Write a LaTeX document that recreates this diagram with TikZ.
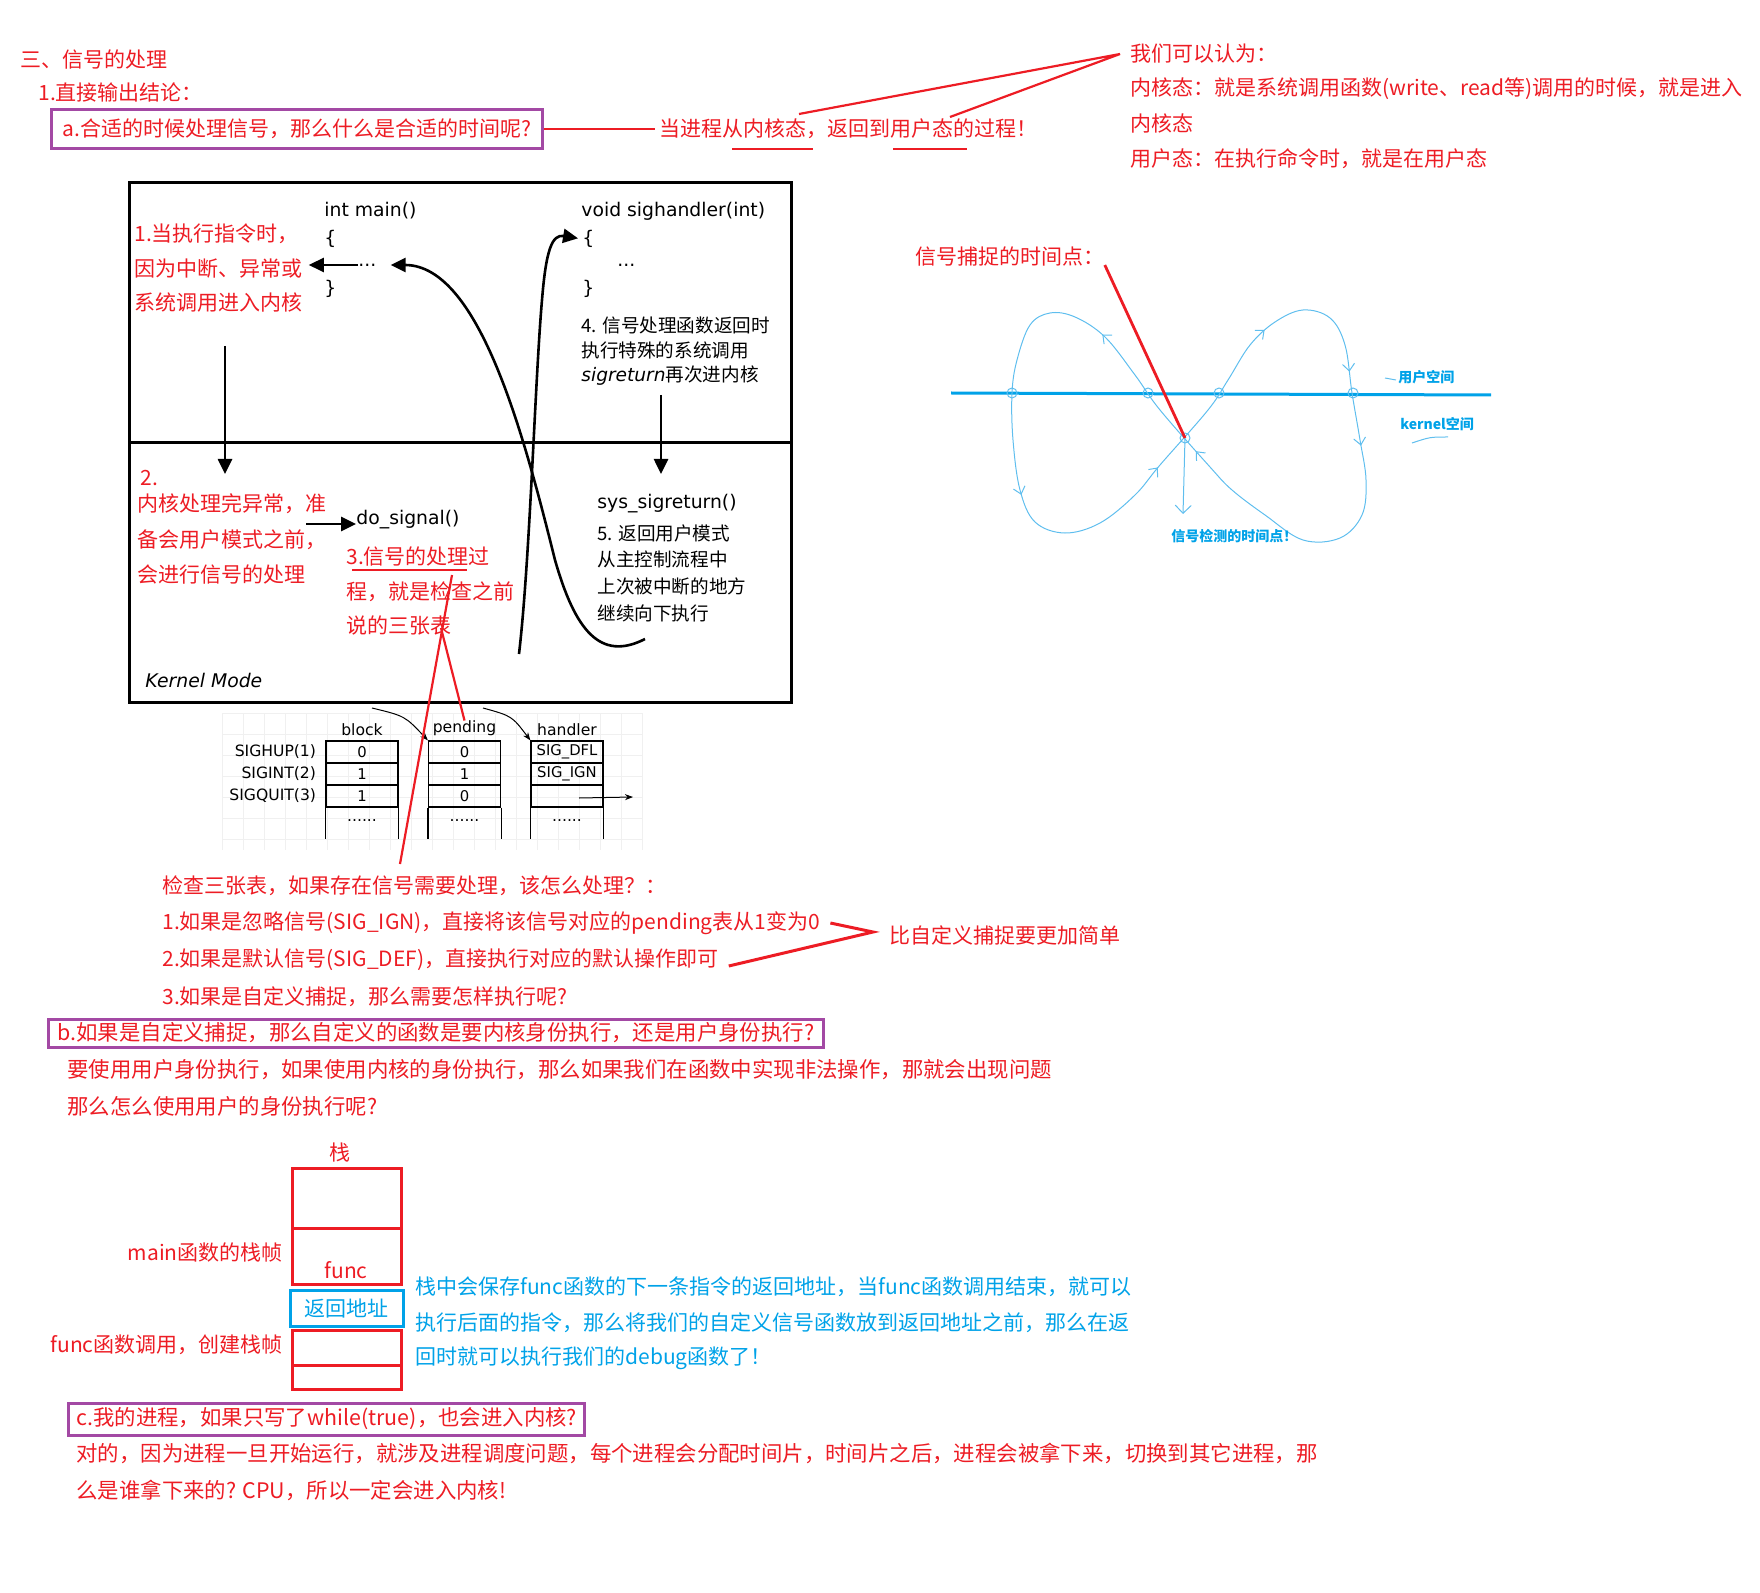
\documentclass[tikz,border=0pt]{standalone}
\usepackage{fontspec}
\setmainfont{Noto Sans CJK SC}
\newfontfamily\codefont{DejaVu Sans}
\usepackage{xcolor}
\usepackage{tikz}
\usetikzlibrary{positioning, calc, arrows.meta, decorations.markings}

\definecolor{sigred}{RGB}{237,28,36}
\definecolor{sigblue}{RGB}{0,162,232}
\definecolor{sigpurple}{RGB}{163,73,164}
\definecolor{loopblue}{RGB}{95,190,238}

\newcommand{\rsize}{\fontsize{10.5}{12.5}\selectfont}
\newcommand{\bsize}{\fontsize{10.7}{12.8}\selectfont}
\newcommand{\loopbarb}{\arrow{Straight Barb[length=3.5pt,width=6pt]}}

\begin{document}
\begin{tikzpicture}[x=0.5pt, y=-0.5pt,
  every node/.style={inner sep=0, anchor=west},
  rtxt/.style={font=\rsize, text=sigred},
  btxt/.style={font=\bsize, text=sigred},
  bluetxt/.style={font=\rsize, text=sigblue},
  smallblue/.style={font=\bfseries\fontsize{7}{8}\selectfont, text=sigblue},
  ktxt/.style={font=\fontsize{9.3}{11}\selectfont},
  codetxt/.style={font=\codefont\fontsize{9.4}{11}\selectfont},
  qbox/.style={draw=sigpurple, line width=1.5pt, inner xsep=5.5pt, minimum height=19.5pt},
  redline/.style={draw=sigred, line width=1.1pt},
  flowarrow/.style={line width=1.3pt, -{Triangle[length=7.5pt, width=7pt]}},
  thinarrow/.style={line width=0.5pt, -{Stealth[length=4pt]}},
  tcell/.style={draw, line width=0.6pt, anchor=center, minimum width=36pt, minimum height=11pt, font=\codefont\fontsize{7.4}{9}\selectfont},
  tlab/.style={font=\codefont\fontsize{7.8}{9}\selectfont},
  stackframe/.style={draw=sigred, line width=1.5pt, anchor=center, minimum width=54.5pt},
  loopline/.style={draw=loopblue, line width=0.5pt}]
  \useasboundingbox (0,0) rectangle (1760,1593);

  % heading and question a
  \node[rtxt] (title) at (20,60) {三、信号的处理};
  \node[rtxt] (concl) at (38,93) {1.直接输出结论：};
  \node[qbox, rtxt] (qa) at (50,129) {a.合适的时候处理信号，那么什么是合适的时间呢?};
  \node[rtxt] (ansa) at (659,129) {当进程从内核态，返回到用户态的过程！};
  \draw[redline, shorten >=2pt] (qa) -- (ansa);
  \draw[redline, line width=1.4pt] (732,149) -- (813,149) (893,149) -- (967,149);
  \node[rtxt] (think) at (1130,54) {我们可以认为：};
  \node[rtxt] (kdef) at (1130,89) {内核态：就是系统调用函数(write、read等)调用的时候，就是进入};
  \node[rtxt] (kdef2) at (1130,124) {内核态};
  \node[rtxt] (udef) at (1130,159) {用户态：在执行命令时，就是在用户态};
  \coordinate (kup) at (799,114);
  \coordinate (uup) at (950,117);
  \draw[redline] (kup) -- ([xshift=-5pt]think.west) -- (uup);

  % user mode / kernel mode box
  \draw[line width=1.5pt] (129,183) rectangle (791,702);
  \draw[line width=1.5pt] (129,443) -- (791,443);
  \node[codetxt] (mainsig) at (324,211) {int main()};
  \node[codetxt] (mainob) at (324,239) {\{};
  \node[codetxt] (maindots) at (358,265) {...};
  \node[codetxt] (maincb) at (324,289) {\}};
  \node[rtxt] (why1) at (134,234) {1.当执行指令时，};
  \node[rtxt] (why2) at (134,269) {因为中断、异常或};
  \node[rtxt] (why3) at (134,303) {系统调用进入内核};
  \draw[flowarrow, shorten >=3pt] (maindots.west) -- (maindots.west -| why2.east);
  \coordinate (trapstart) at (225,346);
  \coordinate (trapend) at (225,474);
  \draw[flowarrow] (trapstart) -- (trapend);

  \node[codetxt] (handsig) at (581,211) {void sighandler(int)};
  \node[codetxt] (handob) at (582,239) {\{};
  \node[codetxt] (handdots) at (617,265) {...};
  \node[codetxt] (handcb) at (582,289) {\}};
  \node[ktxt] (k4-1) at (581,325) {4. 信号处理函数返回时};
  \node[ktxt] (k4-2) at (581,350) {执行特殊的系统调用};
  \node[ktxt] (k4-3) at (581,376) {{\codefont\itshape sigreturn}再次进内核};
  \coordinate (retstart) at (661,395);
  \coordinate (retend) at (661,474);
  \draw[flowarrow] (retstart) -- (retend);

  \node[rtxt] (k2) at (140,478) {2.};
  \foreach \t [count=\i] in {内核处理完异常，准, 备会用户模式之前，, 会进行信号的处理}
    \node[rtxt] (k2-\i) at (137,504+35.5*\i-35.5) {\t};
  \node[codetxt] (dosig) at (356,520) {do\_signal()};
  \coordinate (dostart) at (306,524);
  \draw[flowarrow] (dostart) -- (dostart -| dosig.west);
  \foreach \t [count=\i] in {3.信号的处理过, 程，就是检查之前, 说的三张表}
    \node[rtxt] (k3-\i) at (346,557+34.5*\i-34.5) {\t};
  \draw[redline] (352,570) -- (467,570);

  \node[codetxt] (sysret) at (597,504) {sys\_sigreturn()};
  \foreach \t [count=\i] in {5. 返回用户模式, 从主控制流程中, 上次被中断的地方, 继续向下执行}
    \node[ktxt] (k5-\i) at (597,533+26.7*\i-26.7) {\t};
  \node[codetxt, font=\codefont\itshape\fontsize{9.4}{11}\selectfont] (kmode) at (145,680) {Kernel Mode};

  \coordinate (c5) at (645,639);
  \draw[flowarrow, shorten >=7pt] (c5) .. controls (600,662) and (575,630) .. (555,560)
    .. controls (525,440) and (480,265) .. (maindots.east);
  \coordinate (c3) at (519,654);
  \draw[flowarrow, shorten >=2pt] (c3) .. controls (530,560) and (535,380) .. (542,300)
    .. controls (546,250) and (552,234) .. (handob.west);

  % the three tables
  \foreach \gx in {222,243,...,642} \draw[gray!12, line width=0.4pt] (\gx,713) -- (\gx,850);
  \foreach \gy in {713,734,...,850} \draw[gray!12, line width=0.4pt] (222,\gy) -- (642,\gy);
  \foreach \v [count=\r] in {0,1,1} \node[tcell] (blk\r) at (362,741+22*\r-11) {\v};
  \foreach \v [count=\r] in {0,1,0} \node[tcell] (pnd\r) at (464.5,741+22*\r-11) {\v};
  \foreach \v [count=\r] in {SIG\_DFL,SIG\_IGN,{}} \node[tcell] (hnd\r) at (567,741+22*\r-11) {\v};
  \foreach \col in {blk,pnd,hnd} {
    \draw[line width=0.6pt] (\col3.south west) -- ++(0,31) (\col3.south east) -- ++(0,31);
    \node[tlab, anchor=center] (\col-dots) at ($(\col3.south)+(0,13)$) {......};
  }
  \node[tlab, above=2pt of blk1] (blklab) {block};
  \node[tlab, above=2pt of pnd1] (pndlab) {pending};
  \node[tlab, above=2pt of hnd1] (hndlab) {handler};
  \foreach \s [count=\r] in {SIGHUP(1),SIGINT(2),SIGQUIT(3)}
    \node[tlab, left=4.5pt of blk\r] (sig\r) {\s};
  \coordinate (fnend) at (633,797);
  \draw[thinarrow] ([xshift=6pt,yshift=-1pt]hnd3.center) -- (fnend);
  \coordinate (blkarr) at (372,708);
  \coordinate (pndarr) at (483,708);
  \draw[thinarrow] (blkarr) .. controls (405,716) .. (pnd1.north west);
  \draw[thinarrow] (pndarr) .. controls (512,716) .. (hnd1.north west);

  % red pointers from step 3
  \coordinate (x1a) at (452,575);
  \coordinate (x1b) at (400,864);
  \coordinate (x2a) at (441,628);
  \draw[redline] (x1a) -- (x1b);
  \draw[redline] (x2a) -- (pndlab.north);

  % catch / detect figure
  \node[rtxt] (catch) at (915,257) {信号捕捉的时间点：};
  \coordinate (xpt) at (1185,438);
  \draw[sigblue, line width=1.5pt] (951,393) -- (1491,395);
  \draw[loopline, postaction={decorate}, decoration={markings,
      mark=at position 0.05 with {\loopbarb},
      mark=at position 0.155 with {\loopbarb},
      mark=at position 0.215 with {\loopbarb},
      mark=at position 0.44 with {\loopbarb},
      mark=at position 0.56 with {\loopbarb},
      mark=at position 0.765 with {\loopbarb},
      mark=at position 0.91 with {\loopbarb}}]
    plot[smooth cycle, tension=0.6] coordinates {(1208,410) (1228,380) (1250,345) (1275,322)
      (1303,310) (1330,318) (1345,345) (1352,393) (1360,440) (1366,480) (1362,515)
      (1340,538) (1303,540) (1265,515) (1232,490) (1210,467) (1160,410) (1135,375)
      (1105,337) (1075,317) (1050,313) (1030,325) (1017,360) (1012,393) (1013,440)
      (1020,490) (1035,522) (1065,533) (1100,523) (1135,495) (1160,465)};
  \foreach \cx in {1012,1148,1219,1353} \draw[loopline] (\cx,393) circle[radius=2.5pt];
  \draw[loopline] (xpt) circle[radius=2.5pt];
  \coordinate (xdown) at (1183,514);
  \draw[loopline, -{Straight Barb[length=4pt,width=8pt]}] (xpt) -- (xdown);
  \draw[redline, line width=1.4pt] ([yshift=-4pt]catch.east) -- (xpt);
  \node[smallblue] (uspace) at (1398,377) {用户空间};
  \node[smallblue] (kspace) at (1400,424) {kernel空间};
  \node[smallblue] (detect) at (1171,536) {信号检测的时间点！};
  \draw[loopline] (1385,378) -- (1396,380);
  \draw[loopline] (1412,443) .. controls (1430,437) .. (1448,437);

  % checking the tables
  \node[rtxt] (chk) at (162,886) {检查三张表，如果存在信号需要处理，该怎么处理？：};
  \node[rtxt] (ign) at (162,923) {1.如果是忽略信号(SIG\_IGN)，直接将该信号对应的pending表从1变为0};
  \node[rtxt] (dfl) at (162,960) {2.如果是默认信号(SIG\_DEF)，直接执行对应的默认操作即可};
  \node[rtxt] (cus) at (162,997) {3.如果是自定义捕捉，那么需要怎样执行呢?};
  \node[rtxt] (simple) at (889,935) {比自定义捕捉要更加简单};
  \coordinate (brace) at (873,932);
  \draw[redline, line width=1.5pt] ([xshift=5pt]ign.east) -- (brace) -- ([xshift=5pt,yshift=-3pt]dfl.east);

  % question b
  \node[qbox, btxt, minimum height=14pt, inner xsep=4.5pt] (qb) at (47,1033) {b.如果是自定义捕捉，那么自定义的函数是要内核身份执行，还是用户身份执行?};
  \node[btxt] (useuser) at (67,1070) {要使用用户身份执行，如果使用内核的身份执行，那么如果我们在函数中实现非法操作，那就会出现问题};
  \node[btxt] (howuser) at (67,1106) {那么怎么使用用户的身份执行呢?};

  % stack
  \node[rtxt, anchor=center] (stk) at (340,1153) {栈};
  \node[stackframe, minimum height=30pt] (fr1) at (346.5,1198) {};
  \node[stackframe, minimum height=28pt] (fr2) at (346.5,1256) {};
  \node[rtxt, anchor=center] (fnc) at (346,1270) {func};
  \node[draw=sigblue, line width=1.5pt, anchor=center, minimum width=56.5pt, minimum height=18pt, bluetxt] (ret) at (346.5,1308) {返回地址};
  \node[stackframe, minimum height=17.5pt] (fr4) at (346.5,1347.5) {};
  \node[stackframe, minimum height=12pt] (fr5) at (346.5,1377) {};
  \node[rtxt, anchor=east] (mainfr) at (283,1252) {main函数的栈帧};
  \node[rtxt, anchor=east] (funcfr) at (283,1345) {func函数调用，创建栈帧};
  \foreach \t [count=\i] in {栈中会保存func函数的下一条指令的返回地址，当func函数调用结束，就可以, 执行后面的指令，那么将我们的自定义信号函数放到返回地址之前，那么在返, 回时就可以执行我们的debug函数了！}
    \node[bluetxt] (note\i) at (415,1287+35.5*\i-35.5) {\t};

  % question c
  \node[qbox, btxt, minimum height=16pt, inner xsep=4pt] (qc) at (67,1419) {c.我的进程，如果只写了while(true)，也会进入内核?};
  \node[btxt] (ans1) at (76,1453) {对的，因为进程一旦开始运行，就涉及进程调度问题，每个进程会分配时间片，时间片之后，进程会被拿下来，切换到其它进程，那};
  \node[btxt] (ans2) at (76,1490) {么是谁拿下来的? CPU，所以一定会进入内核!};
\end{tikzpicture}
\end{document}
